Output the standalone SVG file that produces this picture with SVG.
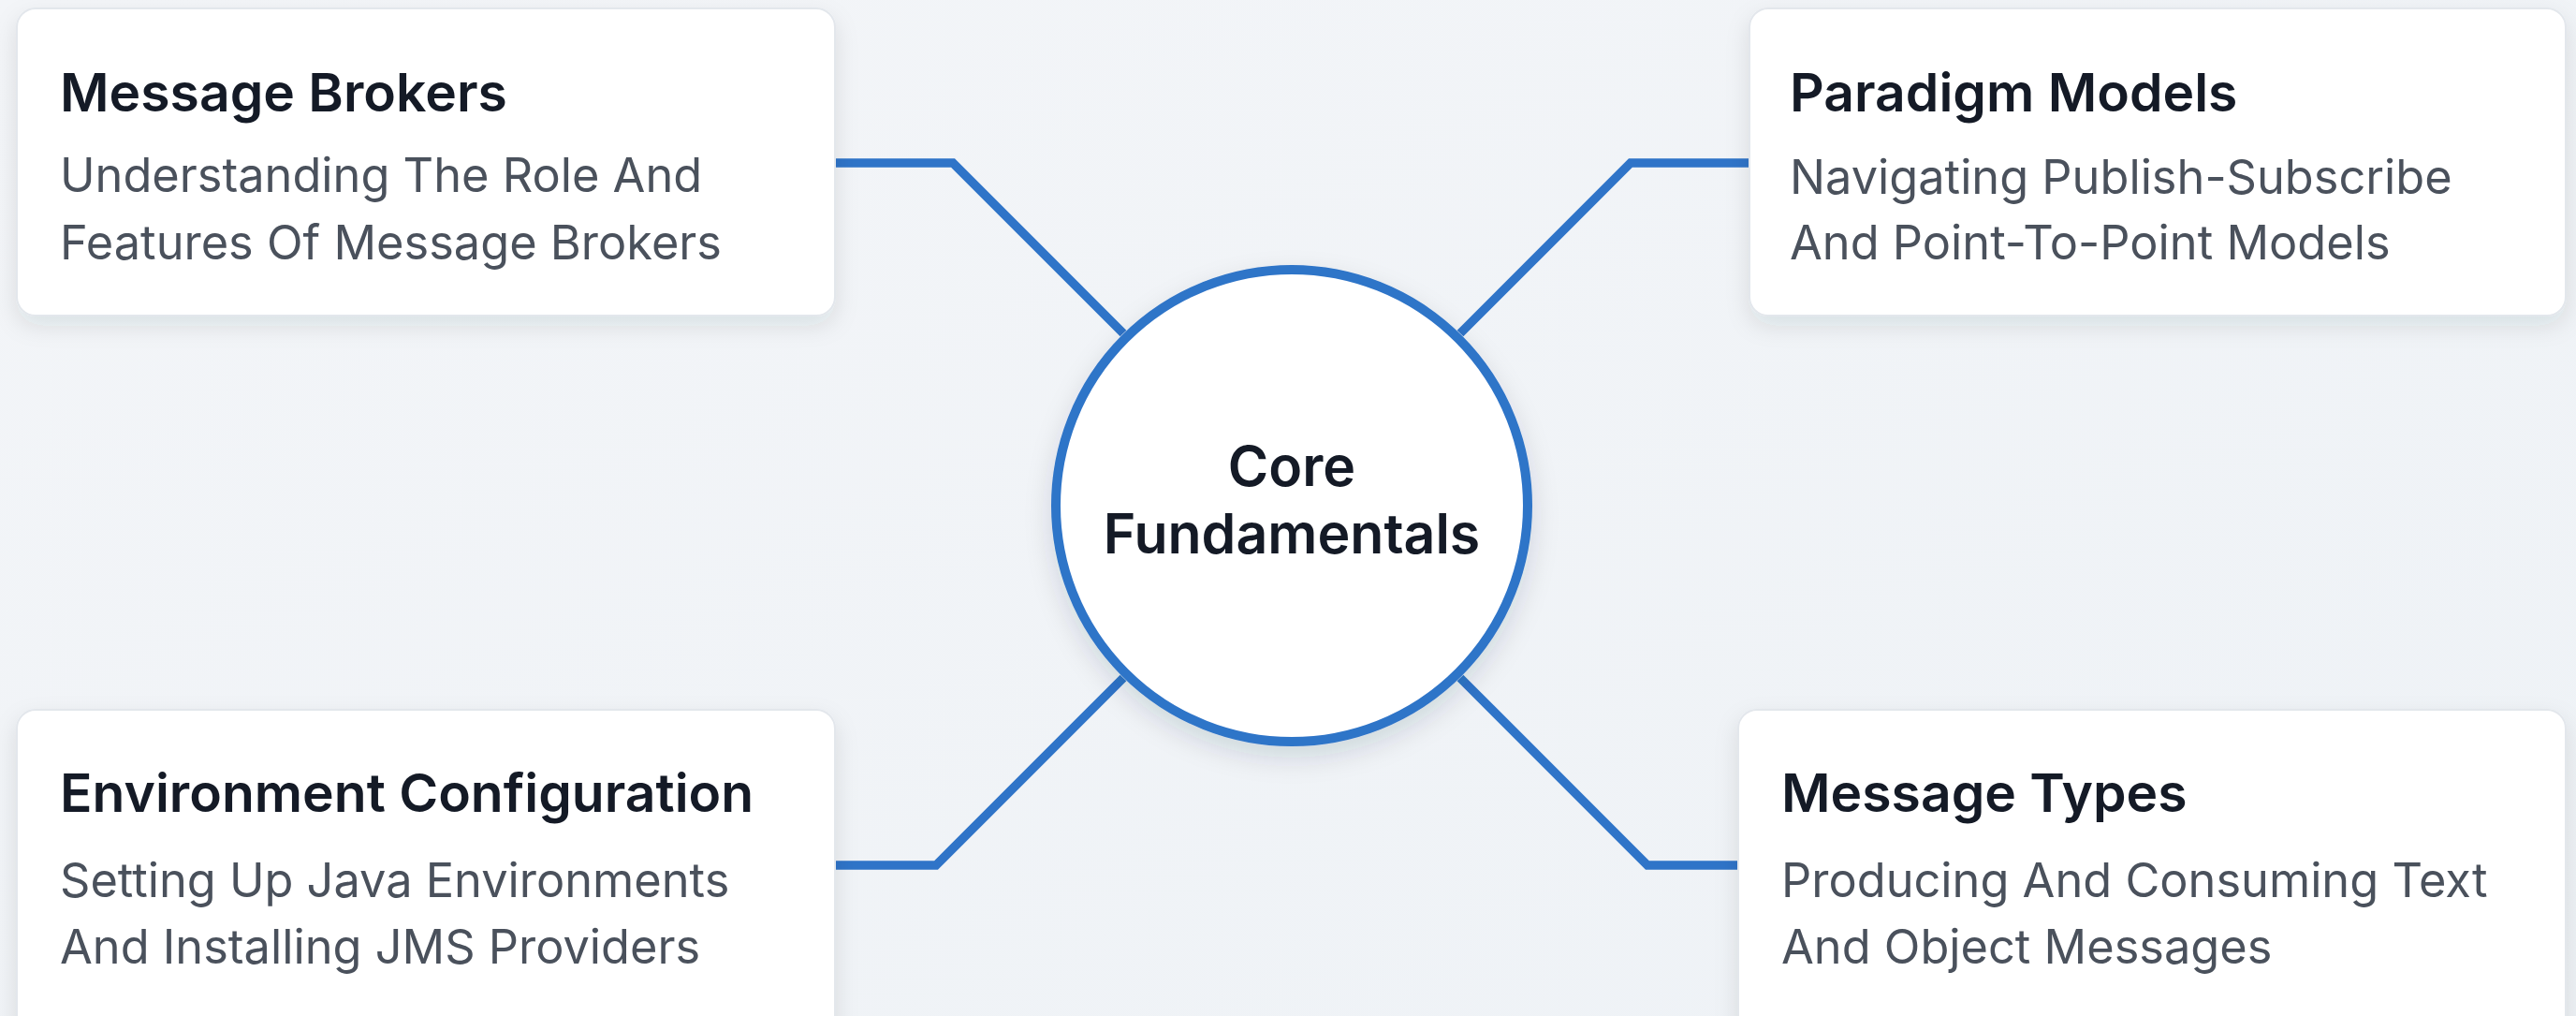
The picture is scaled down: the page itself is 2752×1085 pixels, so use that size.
<svg xmlns="http://www.w3.org/2000/svg" width="2752" height="1085" viewBox="0 0 2752 1085">
<defs>
<linearGradient id="bg" x1="0" y1="0" x2="1" y2="1">
<stop offset="0" stop-color="#f3f5f8"/>
<stop offset="1" stop-color="#eef2f6"/>
</linearGradient>
<filter id="shadow" x="-10%" y="-10%" width="120%" height="135%">
<feDropShadow dx="0" dy="10" stdDeviation="12" flood-color="#1e293b" flood-opacity="0.10"/>
</filter>
<filter id="cshadow" x="-20%" y="-20%" width="140%" height="145%">
<feDropShadow dx="0" dy="12" stdDeviation="14" flood-color="#1e293b" flood-opacity="0.14"/>
</filter>
<style>
.card{fill:#ffffff;stroke:#e3e7ec;stroke-width:2;filter:url(#shadow)}
.title{font-family:Inter,"Liberation Sans",sans-serif;font-weight:600;font-size:57px;fill:#141a26}
.desc{font-family:Inter,"Liberation Sans",sans-serif;font-weight:400;font-size:50.5px;fill:#4a515c}
.conn{fill:none;stroke:#2f74c8;stroke-width:9.5;stroke-linejoin:miter}
.core{fill:#ffffff;stroke:#2f74c8;stroke-width:10;filter:url(#cshadow)}
.ctext{font-family:Inter,"Liberation Sans",sans-serif;font-weight:600;font-size:59px;fill:#141a26;text-anchor:middle}
</style>
</defs>
<rect x="0" y="0" width="2752" height="1085" fill="url(#bg)"/>
<g id="connectors">
<polyline class="conn" points="892,174 1018,174 1200,356"/>
<polyline class="conn" points="1869,174 1742,174 1560,356"/>
<polyline class="conn" points="892,924 1000,924 1200,724"/>
<polyline class="conn" points="1857,924 1760,924 1560,724"/>
</g>
<g id="node-message-brokers">
<rect class="card" x="18" y="9" width="874" height="328" rx="20"/>
<text class="title" x="64" y="119">Message Brokers</text>
<text class="desc" x="64" y="205">Understanding The Role And</text>
<text class="desc" x="64" y="277">Features Of Message Brokers</text>
</g>
<g id="node-paradigm-models">
<rect class="card" x="1869" y="9" width="872" height="328" rx="20"/>
<text class="title" x="1912" y="119">Paradigm Models</text>
<text class="desc" x="1912" y="207">Navigating Publish-Subscribe</text>
<text class="desc" x="1912" y="277">And Point-To-Point Models</text>
</g>
<g id="node-environment-configuration">
<rect class="card" x="18" y="758" width="874" height="360" rx="20"/>
<text class="title" x="64" y="867">Environment Configuration</text>
<text class="desc" x="64" y="958">Setting Up Java Environments</text>
<text class="desc" x="64" y="1029">And Installing JMS Providers</text>
</g>
<g id="node-message-types">
<rect class="card" x="1857" y="758" width="884" height="360" rx="20"/>
<text class="title" x="1903" y="867">Message Types</text>
<text class="desc" x="1903" y="958">Producing And Consuming Text</text>
<text class="desc" x="1903" y="1029">And Object Messages</text>
</g>
<g id="node-core-fundamentals">
<circle class="core" cx="1380" cy="540" r="252"/>
<text class="ctext" x="1380" y="519">Core</text>
<text class="ctext" x="1380" y="591">Fundamentals</text>
</g>
</svg>
